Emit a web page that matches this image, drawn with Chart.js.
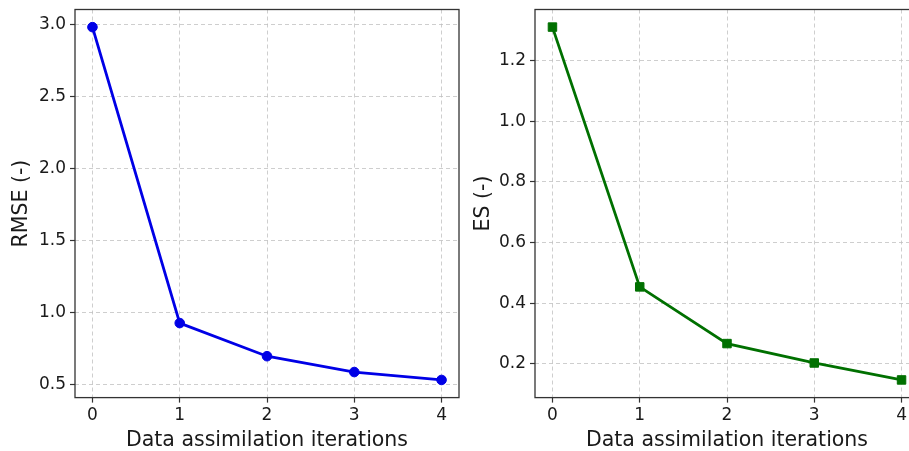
<!DOCTYPE html>
<html>
<head>
<meta charset="utf-8">
<script src="https://cdn.jsdelivr.net/npm/chart.js@4.4.1/dist/chart.umd.min.js"></script>
<style>
  html, body { margin: 0; padding: 0; background: #fff; width: 909px; height: 451px; overflow: hidden; }
  #wrap { position: relative; width: 909px; height: 451px; overflow: hidden; }
  canvas { position: absolute; top: 0; }
</style>
</head>
<body>
<div id="wrap">
  <canvas id="c1" width="475" height="451" style="left:0px"></canvas>
  <canvas id="c2" width="480" height="451" style="left:455px"></canvas>
</div>
<script>
// ---- data ----
const iterations = [0, 1, 2, 3, 4];
const rmseValues = [2.985, 0.93, 0.70, 0.59, 0.535];
const esValues = [1.311, 0.454, 0.267, 0.203, 0.147];
const rmseTicks = [0.5, 1.0, 1.5, 2.0, 2.5, 3.0];
const esTicks = [0.2, 0.4, 0.6, 0.8, 1.0, 1.2];
const xTicks = [0, 1, 2, 3, 4];
const xTitle = 'Data assimilation iterations';
const rmseTitle = 'RMSE (-)';
const esTitle = 'ES (-)';

const FONT = 'DejaVu Sans';
const GRID = 'rgba(190,190,190,0.75)';
const AXIS = '#333333';
const TEXT = '#1a1a1a';

const framePlugin = {
  id: 'frame',
  beforeDatasetsDraw(chart) {
    const a = chart.chartArea, ctx = chart.ctx;
    ctx.save();
    ctx.strokeStyle = AXIS;
    ctx.lineWidth = 1.3;
    ctx.strokeRect(a.left, a.top, a.right - a.left, a.bottom - a.top);
    ctx.restore();
  }
};

function makeChart(id, values, yTicks, ymin, ymax, color, pstyle, radius, yTitle, yAxisWidth, yTitlePad, padRight) {
  const pts = iterations.map((x, i) => ({ x: x, y: values[i] }));
  return new Chart(document.getElementById(id), {
    type: 'line',
    data: {
      datasets: [{
        data: pts,
        borderColor: color,
        backgroundColor: color,
        borderWidth: 2.8,
        pointStyle: pstyle,
        pointRadius: radius,
        pointHoverRadius: radius,
        pointBorderWidth: 1,
        tension: 0,
        clip: false
      }]
    },
    options: {
      responsive: false,
      animation: false,
      devicePixelRatio: 1,
      layout: { padding: { top: 9.5, right: padRight, bottom: 0, left: 0 } },
      plugins: { legend: { display: false }, tooltip: { enabled: false } },
      scales: {
        x: {
          type: 'linear',
          min: -0.2, max: 4.2,
          afterBuildTicks(s) { s.ticks = xTicks.map(v => ({ value: v })); },
          afterFit(s) { s.height = 53.4; s.paddingLeft = 0; s.paddingRight = 0; },
          ticks: {
            color: TEXT, padding: 3, maxRotation: 0,
            font: { family: FONT, size: 17, lineHeight: 1.2 },
            callback: v => String(v)
          },
          grid: { color: GRID, lineWidth: 1, tickLength: 5, tickColor: AXIS, tickWidth: 1.2, drawTicks: true },
          border: { display: false, dash: [4, 3] },
          title: {
            display: true, text: xTitle, color: TEXT,
            font: { family: FONT, size: 20.5, lineHeight: 1 },
            padding: { top: 0, bottom: 0 }
          }
        },
        y: {
          type: 'linear',
          min: ymin, max: ymax,
          afterBuildTicks(s) { s.ticks = yTicks.map(v => ({ value: v })); },
          afterFit(s) { s.width = yAxisWidth; s.paddingTop = 0; s.paddingBottom = 0; },
          ticks: {
            color: TEXT, padding: 4,
            font: { family: FONT, size: 17, lineHeight: 1.2 },
            callback: v => Number(v).toFixed(1)
          },
          grid: { color: GRID, lineWidth: 1, tickLength: 5, tickColor: AXIS, tickWidth: 1.2, drawTicks: true },
          border: { display: false, dash: [4, 3] },
          title: {
            display: true, text: yTitle, color: TEXT,
            font: { family: FONT, size: 20.5, lineHeight: 1 },
            padding: { top: yTitlePad, bottom: 0 }
          }
        }
      }
    },
    plugins: [framePlugin]
  });
}

makeChart('c1', rmseValues, rmseTicks, 0.4125, 3.1075, '#0000e6', 'circle', 4.8, rmseTitle, 75, 11, 16);
makeChart('c2', esValues, esTicks, 0.0888, 1.369, '#007000', 'rect', 6, esTitle, 80, 18, 16);
</script>
</body>
</html>
